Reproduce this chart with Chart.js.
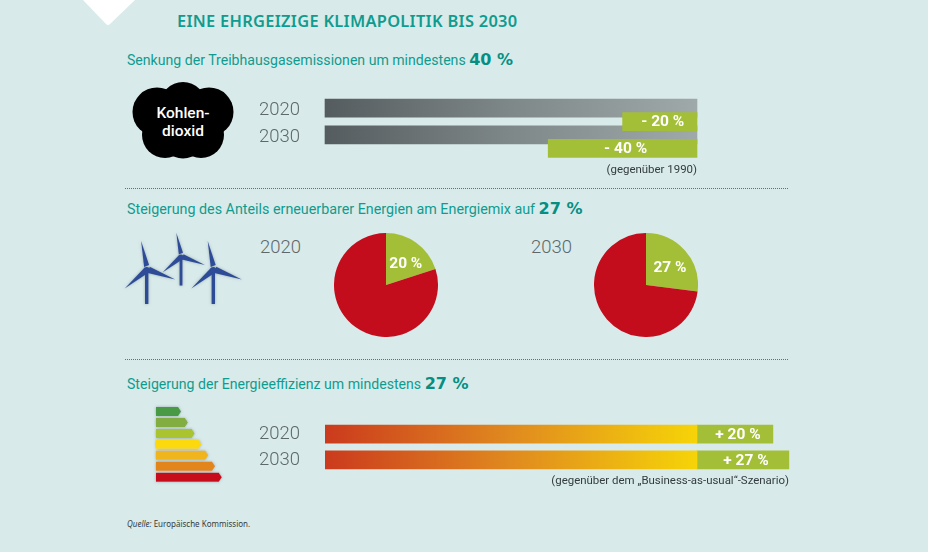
<!DOCTYPE html>
<html lang="de">
<head>
<meta charset="utf-8">
<title>Eine ehrgeizige Klimapolitik bis 2030</title>
<script src="https://cdn.jsdelivr.net/npm/chart.js@4"></script>
<style>
html, body { margin: 0; padding: 0; }
body { position: relative; width: 928px; height: 552px; overflow: hidden; background: #d9eaea; font-family: Roboto, sans-serif; }
canvas, svg, .txt, .line { position: absolute; }
.txt { white-space: nowrap; line-height: 1; }
.head { color: #0f9c8f; font-size: 14.1px; }
.head b { font-family: "DejaVu Sans", sans-serif; font-size: 16px; color: #058f83; }
.year { color: #5d686b; font-size: 18.5px; font-weight: 300; }
.note { color: #333c40; font-size: 11.45px; }
.line { left: 125px; width: 663px; height: 0; border-top: 1px dotted #14958c; }
</style>
</head>
<body>
<svg style="left:0;top:0" width="928" height="552" viewBox="0 0 928 552">
  <defs>
    <filter id="soft" x="-20%" y="-20%" width="140%" height="140%"><feDropShadow dx="0" dy="0" stdDeviation="1.5" flood-color="#5d7a80" flood-opacity="0.55"/></filter>
    <g id="turbine" fill="#2f4b98">
      <rect x="-1.7" y="0" width="3.4" height="34"/>
      <circle r="3"/>
      <path d="M-2.6 -3 L-5.6 -29 L2.4 -5 Z"/>
      <path d="M3 -3.2 L28.5 9.5 L1 3 Z"/>
      <path d="M-2 -2.6 L-22 18.5 L2 2.6 Z"/>
    </g>
  </defs>
  <path d="M83 0 L135 0 L110 24 Q108 26 106 24 Z" fill="#ffffff"/>
  <g fill="#000000">
    <circle cx="183" cy="105" r="23"/>
    <circle cx="157" cy="112" r="24.5"/>
    <circle cx="209" cy="112" r="24.5"/>
    <circle cx="165" cy="135" r="23"/>
    <circle cx="201" cy="135" r="23"/>
    <circle cx="183" cy="136" r="22.5"/>
    <circle cx="183" cy="120" r="28"/>
  </g>
  <g filter="url(#soft)">
    <use href="#turbine" transform="translate(181 257) scale(.84)"/>
    <use href="#turbine" transform="translate(146.7 270)"/>
    <use href="#turbine" transform="translate(213.3 270)"/>
  </g>
  <g id="energy" filter="url(#soft)"></g>
</svg>

<div class="txt" style="left:177px;top:13px;color:#0f9c8f;font-size:16.4px;font-family:'Noto Sans',sans-serif;font-weight:600;letter-spacing:.3px">EINE EHRGEIZIGE KLIMAPOLITIK BIS 2030</div>

<div class="txt head" style="left:127px;top:52px">Senkung der Treibhausgasemissionen um mindestens <b>40 %</b></div>
<div class="txt" style="left:133px;top:104px;width:100px;text-align:center;color:#fff;font-size:15.5px;line-height:18px;font-weight:500">Kohlen-<br>dioxid</div>
<canvas id="co2Chart" width="460" height="77" style="left:250px;top:90px"></canvas>
<div class="txt note" style="right:231px;top:163.5px">(gegenüber 1990)</div>
<div class="line" style="top:188px"></div>

<div class="txt head" style="left:127px;top:201px;font-size:14.3px">Steigerung des Anteils erneuerbarer Energien am Energiemix auf <b>27 %</b></div>
<div class="txt year" style="left:260px;top:238px">2020</div>
<canvas id="pie2020" width="104" height="104" style="left:334px;top:233px"></canvas>
<div class="txt year" style="left:531px;top:238px">2030</div>
<canvas id="pie2030" width="104" height="104" style="left:594px;top:233px"></canvas>
<div class="line" style="top:359px"></div>

<div class="txt head" style="left:127px;top:376px">Steigerung der Energieeffizienz um mindestens <b>27 %</b></div>
<canvas id="effChart" width="560" height="74" style="left:250px;top:410px"></canvas>
<div class="txt note" style="right:139px;top:474.5px">(gegenüber dem „Business-as-usual“-Szenario)</div>

<div class="txt" style="left:127px;top:520px;color:#333c40;font-size:8px;font-family:'Noto Sans',sans-serif"><i>Quelle:</i> Europäische Kommission.</div>

<script>
// Treibhausgase: Zeilen abwechselnd Grundbalken / Senkung
const co2Rows = ['2020', '', '2030', ''];
const co2Base = [100, null, 100, null];
const co2Cut = [null, [80, 100], null, [60, 100]];
const co2CutLabels = ['', '- 20 %', '', '- 40 %'];

// Erneuerbare Energien (Anteil am Energiemix)
const pieParts = ['Erneuerbare', 'Sonstige'];
const share2020 = [20, 80];
const share2030 = [27, 73];
const shareLabels2020 = ['20 %', ''];
const shareLabels2030 = ['27 %', ''];

// Energieeffizienz, Längen
const effRows = ['2020', '2030'];
const effBase = [100, 100];
const effPlus = [20.4, 24.7];
const effPlusLabels = ['+ 20 %', '+ 27 %'];

const green = '#a3bf38';
const red = '#c30d1c';
const yearColor = '#5d686b';

// Energielabel-Icon
const energyColors = ['#4a9a44', '#82ad3f', '#a9c42f', '#fbd90b', '#f0b41c', '#e2861f', '#c70f1e'];
const energyRows = document.getElementById('energy');
energyColors.forEach(function (color, i) {
    const y = 407 + i * 10.95;
    const right = 181 + i * 6.8;
    const p = document.createElementNS('http://www.w3.org/2000/svg', 'path');
    p.setAttribute('d', `M156 ${y} H${right - 3} L${right} ${y + 4.5} L${right - 3} ${y + 9} H156 Z`);
    p.setAttribute('fill', color);
    energyRows.appendChild(p);
});

// Weiße Beschriftung in Balken und Kreisstücken
const valueLabels = {
    id: 'valueLabels',
    afterDatasetsDraw(chart) {
        const c = chart.ctx;
        c.save();
        c.fillStyle = '#ffffff';
        c.font = 'bold 15.5px Roboto, sans-serif';
        c.textAlign = 'center';
        c.textBaseline = 'middle';
        chart.data.datasets.forEach(function (ds, d) {
            if (!ds.valueLabels) return;
            chart.getDatasetMeta(d).data.forEach(function (el, i) {
                const text = ds.valueLabels[i];
                if (!text) return;
                if (chart.config.type === 'pie') {
                    const mid = el.tooltipPosition();
                    c.fillText(text, mid.x + 4.5, mid.y);
                } else {
                    const p = el.getProps(['x', 'y', 'base']);
                    c.fillText(text, (p.x + p.base) / 2 + 3, p.y + 1);
                }
            });
        });
        c.restore();
    }
};

function barGradient(chart, colors, stops) {
    if (!chart.chartArea) return colors[0];
    const xs = chart.scales.x;
    const g = chart.ctx.createLinearGradient(xs.getPixelForValue(0), 0, xs.getPixelForValue(100), 0);
    colors.forEach(function (col, i) { g.addColorStop(stops[i], col); });
    return g;
}

function barOptions(xMax, rightPad, topPad, bottomPad, labelShift) {
    return {
        indexAxis: 'y',
        responsive: false,
        animation: false,
        layout: { padding: { left: 0, right: rightPad, top: topPad, bottom: bottomPad } },
        plugins: { legend: { display: false }, tooltip: { enabled: false } },
        scales: {
            x: { display: false, stacked: true, min: 0, max: xMax },
            y: {
                afterFit: function (axis) { axis.width = 75; },
                border: { display: false },
                // ticks.padding would also eat plot height, so the gap comes from an invisible tick mark
                grid: { display: false, drawTicks: true, tickLength: 25, tickColor: 'transparent' },
                ticks: {
                    autoSkip: false,
                    padding: 0,
                    labelOffset: labelShift,
                    color: yearColor,
                    font: { family: 'Roboto, sans-serif', size: 18.5, weight: '300' }
                }
            }
        }
    };
}

new Chart(document.getElementById('co2Chart'), {
    type: 'bar',
    data: {
        labels: co2Rows,
        datasets: [{
            data: co2Base,
            order: 2, // grau unter dem grünen Balken
            barThickness: 18,
            grouped: false,
            clip: false,
            backgroundColor: function (ctx) {
                return barGradient(ctx.chart, ['#555c5f', '#7f8889', '#a0a9a9'], [0, 0.5, 1]);
            }
        }, {
            data: co2Cut,
            order: 1,
            barThickness: 18,
            grouped: false,
            clip: false,
            backgroundColor: green,
            valueLabels: co2CutLabels
        }]
    },
    options: barOptions(100, 13, 11.5, 12, 2),
    plugins: [valueLabels]
});

function makePie(id, values, labels) {
    return new Chart(document.getElementById(id), {
        type: 'pie',
        data: {
            labels: pieParts,
            datasets: [{ data: values, backgroundColor: [green, red], borderWidth: 0, valueLabels: labels }]
        },
        options: {
            responsive: false,
            animation: false,
            plugins: { legend: { display: false }, tooltip: { enabled: false } }
        },
        plugins: [valueLabels]
    });
}
makePie('pie2020', share2020, shareLabels2020);
makePie('pie2030', share2030, shareLabels2030);

const effOptions = barOptions(125, 20, 11, 11, 0);
effOptions.scales.y.stacked = true;

new Chart(document.getElementById('effChart'), {
    type: 'bar',
    data: {
        labels: effRows,
        datasets: [{
            data: effBase,
            barThickness: 18,
            backgroundColor: function (ctx) {
                return barGradient(ctx.chart, ['#cb3a1d', '#e08a1f', '#f6d408'], [0, 0.5, 1]);
            }
        }, {
            data: effPlus,
            barThickness: 18,
            backgroundColor: green,
            valueLabels: effPlusLabels
        }]
    },
    options: effOptions,
    plugins: [valueLabels]
});
</script>
</body>
</html>
